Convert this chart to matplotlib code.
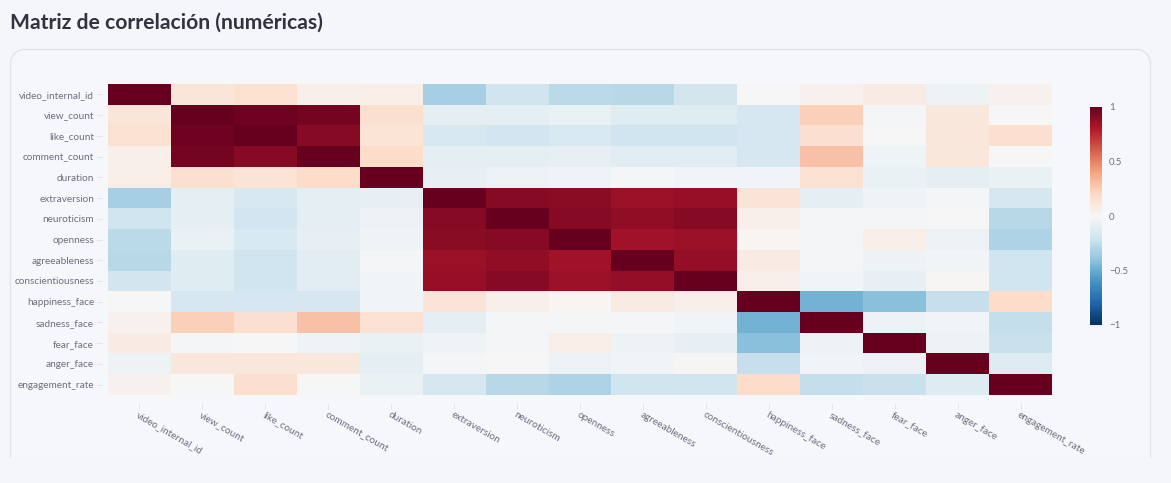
import matplotlib
matplotlib.use("Agg")
import matplotlib.pyplot as plt
import numpy as np
from matplotlib.path import Path
from matplotlib.patches import PathPatch

labels = ["video_internal_id", "view_count", "like_count", "comment_count", "duration",
          "extraversion", "neuroticism", "openness", "agreeableness", "conscientiousness",
          "happiness_face", "sadness_face", "fear_face", "anger_face", "engagement_rate"]

r_video_internal_id = [1.00, 0.12, 0.15, 0.05, 0.07, -0.33, -0.20, -0.27, -0.28, -0.18, 0.00, 0.04, 0.08, -0.05, 0.04]
r_view_count        = [0.12, 1.00, 0.97, 0.96, 0.16, -0.10, -0.10, -0.07, -0.12, -0.12, -0.17, 0.24, -0.01, 0.11, 0.00]
r_like_count        = [0.15, 0.97, 1.00, 0.91, 0.14, -0.16, -0.19, -0.15, -0.20, -0.20, -0.17, 0.16, 0.00, 0.11, 0.17]
r_comment_count     = [0.05, 0.96, 0.91, 1.00, 0.18, -0.10, -0.10, -0.08, -0.11, -0.11, -0.17, 0.29, -0.04, 0.11, 0.00]
r_duration          = [0.07, 0.16, 0.14, 0.18, 1.00, -0.08, -0.06, -0.04, -0.02, -0.03, -0.03, 0.15, -0.07, -0.09, -0.07]
r_extraversion      = [-0.33, -0.10, -0.16, -0.10, -0.08, 1.00, 0.91, 0.90, 0.86, 0.87, 0.13, -0.09, -0.04, -0.01, -0.17]
r_neuroticism       = [-0.20, -0.10, -0.19, -0.10, -0.06, 0.91, 1.00, 0.91, 0.89, 0.91, 0.05, -0.02, -0.01, 0.00, -0.28]
r_openness          = [-0.27, -0.07, -0.15, -0.08, -0.04, 0.90, 0.91, 1.00, 0.84, 0.86, 0.02, -0.01, 0.07, -0.06, -0.31]
r_agreeableness     = [-0.28, -0.12, -0.20, -0.11, -0.02, 0.86, 0.89, 0.84, 1.00, 0.88, 0.08, -0.02, -0.05, -0.03, -0.20]
r_conscientiousness = [-0.18, -0.12, -0.20, -0.11, -0.03, 0.87, 0.91, 0.86, 0.88, 1.00, 0.05, -0.03, -0.08, 0.01, -0.20]
r_happiness_face    = [0.00, -0.17, -0.17, -0.17, -0.03, 0.13, 0.05, 0.02, 0.08, 0.05, 1.00, -0.47, -0.42, -0.23, 0.18]
r_sadness_face      = [0.04, 0.24, 0.16, 0.29, 0.15, -0.09, -0.02, -0.01, -0.02, -0.03, -0.47, 1.00, -0.06, -0.03, -0.24]
r_fear_face         = [0.08, -0.01, 0.00, -0.04, -0.07, -0.04, -0.01, 0.07, -0.05, -0.08, -0.42, -0.06, 1.00, -0.06, -0.22]
r_anger_face        = [-0.05, 0.11, 0.11, 0.11, -0.09, -0.01, 0.00, -0.06, -0.03, 0.01, -0.23, -0.03, -0.06, 1.00, -0.13]
r_engagement_rate   = [0.04, 0.00, 0.17, 0.00, -0.07, -0.17, -0.28, -0.31, -0.20, -0.20, 0.18, -0.24, -0.22, -0.13, 1.00]

matrix = np.array([r_video_internal_id, r_view_count, r_like_count, r_comment_count, r_duration,
                   r_extraversion, r_neuroticism, r_openness, r_agreeableness, r_conscientiousness,
                   r_happiness_face, r_sadness_face, r_fear_face, r_anger_face, r_engagement_rate])

cbar_ticks = [1, 0.5, 0, -0.5, -1]
cbar_ticklabels = ["1", "0.5", "0", "\u22120.5", "\u22121"]

W, H = 1171, 483
BG = "#f5f6fa"
TXT = "#6b7080"
plt.rcParams['font.family'] = ['Lato', 'DejaVu Sans']
fig = plt.figure(figsize=(W / 100, H / 100), dpi=100, facecolor=BG)

def fx(px):
    return px / W

def fy(py):
    return 1 - py / H

# card border (rounded top, open bottom)
x0, x1, y0, y1, r = 10.5, 1150.5, 49.5, 458, 14
k = 0.5523 * r
verts = [(x0, y1), (x0, y0 + r), (x0, y0 + r - k), (x0 + r - k, y0), (x0 + r, y0),
         (x1 - r, y0), (x1 - r + k, y0), (x1, y0 + r - k), (x1, y0 + r), (x1, y1)]
codes = [Path.MOVETO, Path.LINETO, Path.CURVE4, Path.CURVE4, Path.CURVE4,
         Path.LINETO, Path.CURVE4, Path.CURVE4, Path.CURVE4, Path.LINETO]
verts_fig = [(fx(a), fy(b)) for a, b in verts]
card = PathPatch(Path(verts_fig, codes), transform=fig.transFigure, facecolor="#f6f7fb",
                 edgecolor="#e1e4eb", linewidth=1.0, zorder=-10)
fig.add_artist(card)

fig.text(fx(10), fy(23), "Matriz de correlación (numéricas)", fontsize=15.2, fontweight="bold",
         color="#31333f", ha="left", va="center")

# heatmap
hl, hr, ht, hb = 108, 1052, 84, 395
ax = fig.add_axes([fx(hl), fy(hb), fx(hr - hl), (hb - ht) / H])
ax.set_zorder(1)
for s in ax.spines.values():
    s.set_visible(False)
ax.spines['bottom'].set_position(('outward', 6))
ax.spines['left'].set_position(('outward', 4))
ax.set_facecolor(BG)
im = ax.imshow(matrix, cmap="RdBu_r", vmin=-1, vmax=1, aspect="auto", interpolation="nearest")
n = len(labels)
ax.set_xticks(np.arange(n))
ax.set_yticks(np.arange(n))
ax.set_yticklabels(labels, fontsize=7.2, color=TXT)
ax.set_xticklabels(labels, fontsize=7.2, color=TXT, rotation=-30, ha="left", va="top",
                   rotation_mode="anchor")
ax.tick_params(axis="both", length=4, width=0.6, color="#dfe2e8", pad=2)
ax.tick_params(axis="x", pad=1)

# colorbar
cax = fig.add_axes([fx(1090), fy(325), fx(12), (325 - 107) / H])
cax.set_zorder(1)
cb = fig.colorbar(im, cax=cax)
cb.outline.set_visible(False)
cb.set_ticks(cbar_ticks)
cb.set_ticklabels(cbar_ticklabels)
cax.tick_params(length=0, labelsize=7, labelcolor=TXT, pad=5)

fig.savefig("out.png", dpi=100, facecolor=BG)
